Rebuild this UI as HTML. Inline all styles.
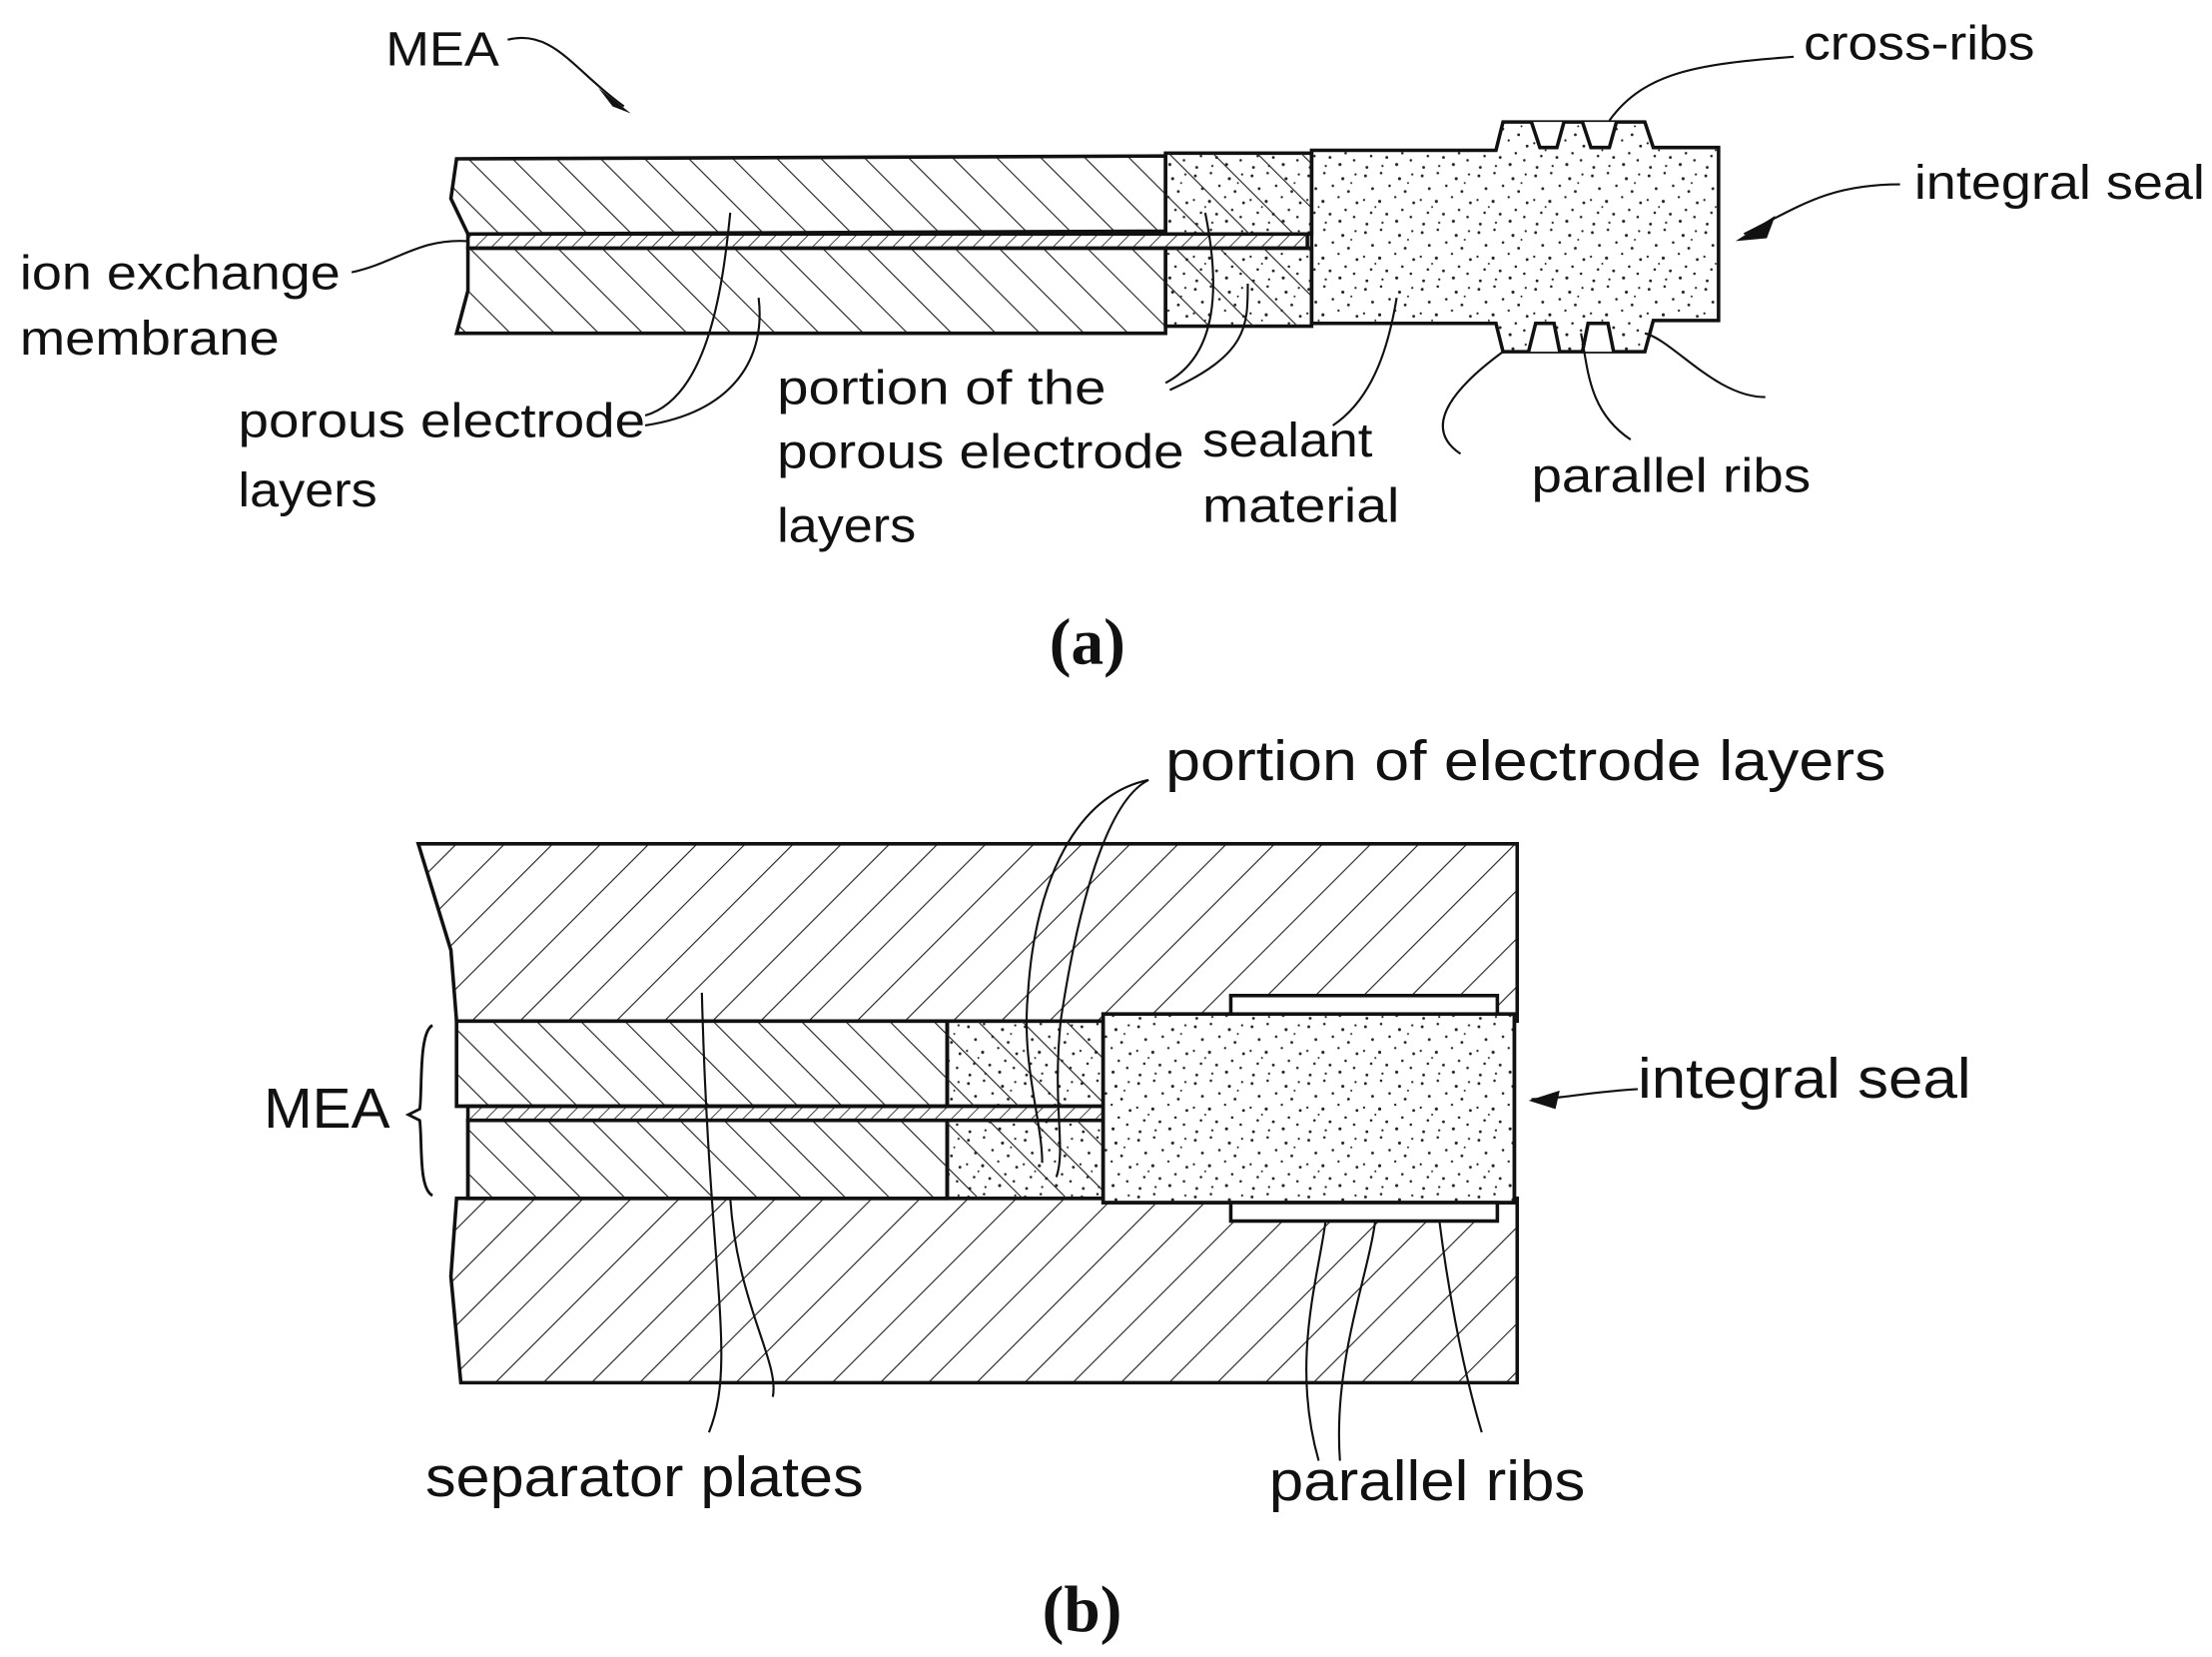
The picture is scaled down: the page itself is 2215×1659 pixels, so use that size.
<!DOCTYPE html>
<html><head><meta charset="utf-8"><style>
html,body{margin:0;padding:0;background:#fff;}
svg{display:block;}
text{font-family:"Liberation Sans",sans-serif;font-size:34px;fill:#111;}
.b{font-size:40px;}
.cap{font-family:"Liberation Serif",serif;font-size:46px;font-weight:bold;}
</style></head><body>
<svg width="2215" height="1659" viewBox="0 0 1560 1168.4" preserveAspectRatio="none" xmlns="http://www.w3.org/2000/svg">
<defs>
<pattern id="hb" width="22" height="22" patternUnits="userSpaceOnUse" patternTransform="rotate(-45)">
<line x1="0" y1="0" x2="0" y2="22" stroke="#222" stroke-width="1.6"/></pattern>
<pattern id="hf" width="24" height="24" patternUnits="userSpaceOnUse" patternTransform="rotate(45)">
<line x1="0" y1="0" x2="0" y2="24" stroke="#222" stroke-width="1.6"/></pattern>
<pattern id="hm" width="8" height="8" patternUnits="userSpaceOnUse" patternTransform="rotate(45)">
<line x1="0" y1="0" x2="0" y2="8" stroke="#222" stroke-width="1.2"/></pattern>
<pattern id="st" width="40" height="40" patternUnits="userSpaceOnUse">
<g fill="#222">
<circle cx="3" cy="4" r="1"/><circle cx="14" cy="2" r="0.9"/><circle cx="27" cy="6" r="1.1"/><circle cx="36" cy="3" r="0.8"/>
<circle cx="8" cy="13" r="1"/><circle cx="20" cy="11" r="0.9"/><circle cx="31" cy="15" r="1"/><circle cx="2" cy="21" r="0.8"/>
<circle cx="13" cy="22" r="1.1"/><circle cx="24" cy="19" r="0.8"/><circle cx="37" cy="23" r="1"/><circle cx="7" cy="30" r="0.9"/>
<circle cx="18" cy="31" r="1"/><circle cx="29" cy="28" r="0.9"/><circle cx="4" cy="38" r="1"/><circle cx="15" cy="37" r="0.8"/>
<circle cx="25" cy="36" r="1.1"/><circle cx="35" cy="33" r="0.9"/><circle cx="33" cy="9" r="0.7"/><circle cx="10" cy="26" r="0.7"/>
</g></pattern>
</defs>
<g stroke="#111" stroke-width="2.5">
<path d="M322,112 L822,110 L822,163 L330,165 L318,140 Z" fill="url(#hb)"/>
<rect x="330" y="165" width="592" height="10" fill="url(#hm)"/>
<path d="M330,175 L822,175 L822,235 L322,235 L330,205 Z" fill="url(#hb)"/>
<rect x="822" y="108" width="103" height="57" fill="url(#st)"/>
<rect x="822" y="108" width="103" height="57" fill="url(#hb)" stroke="none"/>
<rect x="822" y="175" width="103" height="55" fill="url(#st)"/>
<rect x="822" y="175" width="103" height="55" fill="url(#hb)" stroke="none"/>
<path d="M925,106 L1055,106 L1060,86 L1160,86 L1166,104 L1212,104 L1212,226 L1166,226 L1160,248 L1060,248 L1055,228 L925,228 Z" fill="url(#st)"/>
<path d="M1080,86 L1086,104 L1098,104 L1103,86 M1116,86 L1122,104 L1135,104 L1140,86" fill="#fff"/>
<path d="M1078,248 L1083,228 L1096,228 L1100,248 M1116,248 L1120,228 L1134,228 L1138,248" fill="#fff"/>
<path d="M295,595 L1070,595 L1070,720 L322,720 L318,670 Z" fill="url(#hf)"/>
<path d="M322,845 L1070,845 L1070,975 L325,975 L318,900 Z" fill="url(#hf)"/>
<rect x="322" y="720" width="346" height="60" fill="#fff"/>
<rect x="322" y="720" width="346" height="60" fill="url(#hb)"/>
<rect x="330" y="780" width="448" height="10" fill="url(#hm)"/>
<rect x="330" y="790" width="338" height="55" fill="#fff"/>
<rect x="330" y="790" width="338" height="55" fill="url(#hb)"/>
<rect x="668" y="720" width="110" height="60" fill="url(#st)"/>
<rect x="668" y="720" width="110" height="60" fill="url(#hb)" stroke="none"/>
<rect x="668" y="790" width="110" height="55" fill="url(#st)"/>
<rect x="668" y="790" width="110" height="55" fill="url(#hb)" stroke="none"/>
<rect x="778" y="715" width="290" height="133" fill="#fff"/>
<rect x="778" y="715" width="290" height="133" fill="url(#st)"/>
<rect x="868" y="702" width="188" height="13" fill="#fff"/>
<rect x="868" y="848" width="188" height="13" fill="#fff"/>
</g>
<g fill="none" stroke="#111" stroke-width="1.5">
<path d="M358,28 C390,20 405,50 440,75"/>
<path d="M1265,40 C1200,45 1160,50 1135,85"/>
<path d="M1340,130 C1290,130 1270,145 1230,165"/>
<path d="M248,192 C280,185 295,168 330,170"/>
<path d="M455,293 C500,280 510,200 515,150"/>
<path d="M455,300 C520,290 540,250 535,210"/>
<path d="M822,270 C860,250 860,200 850,150"/>
<path d="M825,275 C880,250 880,230 880,200"/>
<path d="M940,300 C970,280 980,240 985,210"/>
<path d="M1030,320 C1000,300 1030,270 1060,248"/>
<path d="M1150,310 C1120,290 1120,260 1115,235"/>
<path d="M1245,280 C1210,280 1180,240 1160,235"/>
<path d="M810,550 C760,560 730,620 725,700 C720,750 735,790 735,820"/>
<path d="M810,550 C780,565 760,640 748,720 C742,780 752,810 745,830"/>
<path d="M1155,768 C1120,770 1100,775 1080,775"/>
<path d="M500,1010 C520,960 500,900 495,700"/>
<path d="M545,985 C550,960 520,920 515,845"/>
<path d="M930,1030 C910,960 930,900 935,860"/>
<path d="M945,1030 C940,960 965,900 970,860"/>
<path d="M1045,1010 C1030,960 1020,900 1015,860"/>
<path d="M305,723 C295,728 298,770 296,782 L288,786 L296,790 C298,805 295,838 305,843" stroke-width="2"/>
</g>
<path d="M445,80 L422,62 L432,75 Z" fill="#111"/>
<path d="M1224,170 L1252,152 L1246,168 Z" fill="#111"/>
<path d="M1078,776 L1100,769 L1097,782 Z" fill="#111"/>
<text x="272" y="46" textLength="80" lengthAdjust="spacingAndGlyphs">MEA</text>
<text x="1272" y="42" textLength="163" lengthAdjust="spacingAndGlyphs">cross-ribs</text>
<text x="1350" y="140" textLength="205" lengthAdjust="spacingAndGlyphs">integral seal</text>
<text x="14" y="204" textLength="226" lengthAdjust="spacingAndGlyphs">ion exchange</text>
<text x="14" y="250" textLength="183" lengthAdjust="spacingAndGlyphs">membrane</text>
<text x="168" y="308" textLength="287" lengthAdjust="spacingAndGlyphs">porous electrode</text>
<text x="168" y="357" textLength="98" lengthAdjust="spacingAndGlyphs">layers</text>
<text x="548" y="285" textLength="232" lengthAdjust="spacingAndGlyphs">portion of the</text>
<text x="548" y="330" textLength="287" lengthAdjust="spacingAndGlyphs">porous electrode</text>
<text x="548" y="382" textLength="98" lengthAdjust="spacingAndGlyphs">layers</text>
<text x="848" y="322" textLength="120" lengthAdjust="spacingAndGlyphs">sealant</text>
<text x="848" y="368" textLength="139" lengthAdjust="spacingAndGlyphs">material</text>
<text x="1080" y="347" textLength="197" lengthAdjust="spacingAndGlyphs">parallel ribs</text>
<text x="740" y="468" class="cap">(a)</text>
<text x="822" y="550" class="b" textLength="508" lengthAdjust="spacingAndGlyphs">portion of electrode layers</text>
<text x="186" y="795" class="b" textLength="89" lengthAdjust="spacingAndGlyphs">MEA</text>
<text x="1155" y="774" class="b" textLength="235" lengthAdjust="spacingAndGlyphs">integral seal</text>
<text x="300" y="1055" class="b" textLength="309" lengthAdjust="spacingAndGlyphs">separator plates</text>
<text x="895" y="1058" class="b" textLength="223" lengthAdjust="spacingAndGlyphs">parallel ribs</text>
<text x="735" y="1150" class="cap">(b)</text>
</svg>
</body></html>
